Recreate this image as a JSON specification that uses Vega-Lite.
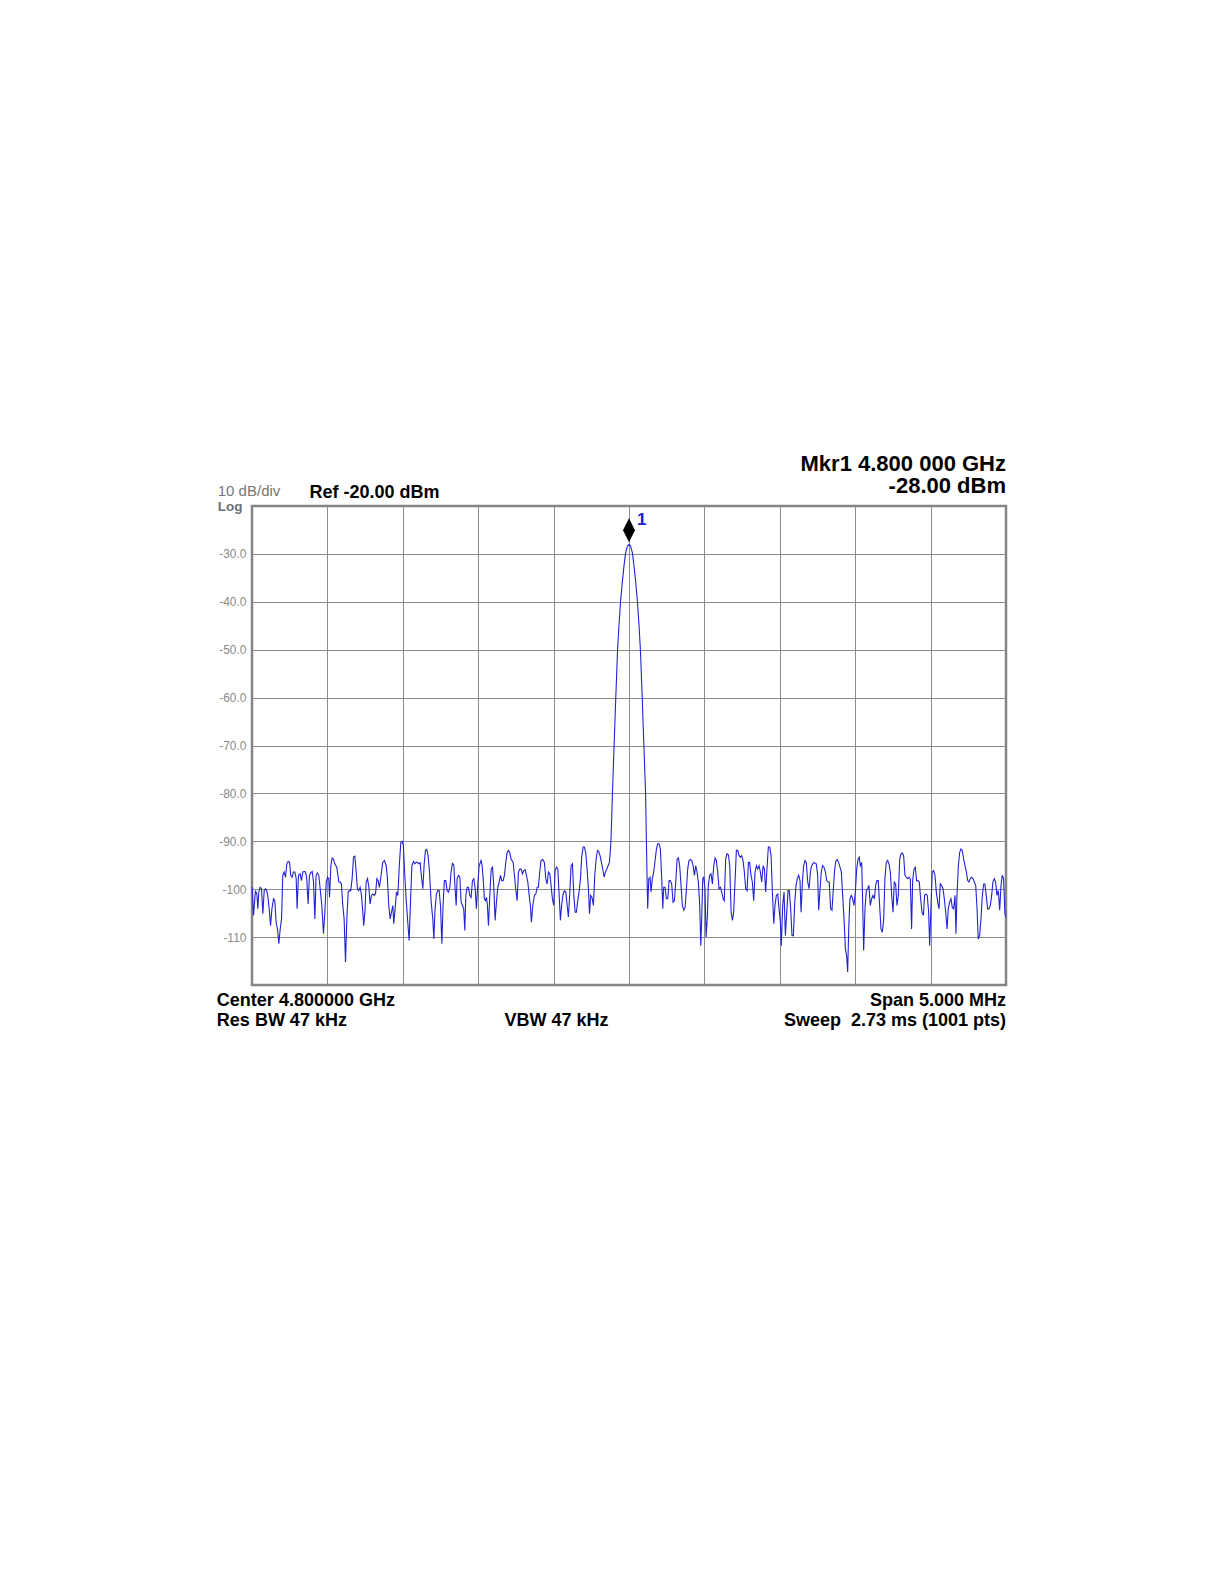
{
"$schema": "https://vega.github.io/schema/vega-lite/v6.json",
"width": 754, "height": 479,
"autosize": "none",
"padding": {"left": 252, "top": 506, "right": 218, "bottom": 599},
"background": "white",
"config": {"font": "Liberation Sans", "view": {"stroke": "#858585", "strokeWidth": 2.5}},
"datasets": {
"trace": [
{"f":4797.501,"dBm":-99.6},{"f":4797.510,"dBm":-105.5},{"f":4797.523,"dBm":-100.3},{"f":4797.532,"dBm":-101.0},{"f":4797.539,"dBm":-104.1},{"f":4797.545,"dBm":-100.6},{"f":4797.554,"dBm":-99.6},{"f":4797.563,"dBm":-99.9},{"f":4797.572,"dBm":-105.1},{"f":4797.581,"dBm":-100.3},{"f":4797.589,"dBm":-99.9},{"f":4797.598,"dBm":-100.3},{"f":4797.607,"dBm":-102.0},{"f":4797.616,"dBm":-104.8},{"f":4797.623,"dBm":-107.6},{"f":4797.632,"dBm":-104.1},{"f":4797.643,"dBm":-102.0},{"f":4797.651,"dBm":-102.4},{"f":4797.660,"dBm":-106.9},{"f":4797.669,"dBm":-108.3},{"f":4797.678,"dBm":-111.4},{"f":4797.687,"dBm":-108.3},{"f":4797.696,"dBm":-106.2},{"f":4797.704,"dBm":-97.1},{"f":4797.713,"dBm":-96.4},{"f":4797.722,"dBm":-97.5},{"f":4797.731,"dBm":-94.7},{"f":4797.740,"dBm":-94.2},{"f":4797.749,"dBm":-94.4},{"f":4797.757,"dBm":-97.1},{"f":4797.766,"dBm":-97.5},{"f":4797.775,"dBm":-96.4},{"f":4797.784,"dBm":-96.4},{"f":4797.793,"dBm":-97.8},{"f":4797.799,"dBm":-104.1},{"f":4797.808,"dBm":-97.1},{"f":4797.819,"dBm":-96.8},{"f":4797.828,"dBm":-98.2},{"f":4797.837,"dBm":-96.4},{"f":4797.846,"dBm":-96.3},{"f":4797.855,"dBm":-96.4},{"f":4797.863,"dBm":-97.8},{"f":4797.872,"dBm":-103.1},{"f":4797.881,"dBm":-97.1},{"f":4797.890,"dBm":-96.6},{"f":4797.899,"dBm":-96.3},{"f":4797.908,"dBm":-98.5},{"f":4797.917,"dBm":-106.2},{"f":4797.925,"dBm":-97.1},{"f":4797.934,"dBm":-96.6},{"f":4797.943,"dBm":-97.1},{"f":4797.952,"dBm":-99.9},{"f":4797.963,"dBm":-103.4},{"f":4797.974,"dBm":-109.3},{"f":4797.983,"dBm":-104.8},{"f":4797.992,"dBm":-98.5},{"f":4798.001,"dBm":-97.5},{"f":4798.009,"dBm":-97.8},{"f":4798.014,"dBm":-101.7},{"f":4798.023,"dBm":-95.1},{"f":4798.031,"dBm":-93.5},{"f":4798.040,"dBm":-93.7},{"f":4798.049,"dBm":-94.7},{"f":4798.062,"dBm":-95.4},{"f":4798.076,"dBm":-98.5},{"f":4798.085,"dBm":-98.5},{"f":4798.093,"dBm":-98.9},{"f":4798.102,"dBm":-103.4},{"f":4798.111,"dBm":-106.2},{"f":4798.120,"dBm":-115.2},{"f":4798.129,"dBm":-106.2},{"f":4798.138,"dBm":-100.6},{"f":4798.146,"dBm":-100.3},{"f":4798.155,"dBm":-100.3},{"f":4798.164,"dBm":-97.8},{"f":4798.173,"dBm":-93.3},{"f":4798.182,"dBm":-93.1},{"f":4798.191,"dBm":-96.4},{"f":4798.199,"dBm":-99.9},{"f":4798.208,"dBm":-100.3},{"f":4798.217,"dBm":-99.6},{"f":4798.226,"dBm":-101.3},{"f":4798.235,"dBm":-104.8},{"f":4798.241,"dBm":-107.6},{"f":4798.250,"dBm":-104.1},{"f":4798.257,"dBm":-98.5},{"f":4798.266,"dBm":-97.8},{"f":4798.275,"dBm":-99.6},{"f":4798.283,"dBm":-103.1},{"f":4798.292,"dBm":-101.3},{"f":4798.301,"dBm":-101.0},{"f":4798.310,"dBm":-101.3},{"f":4798.319,"dBm":-101.0},{"f":4798.328,"dBm":-97.8},{"f":4798.336,"dBm":-98.2},{"f":4798.345,"dBm":-99.6},{"f":4798.356,"dBm":-97.1},{"f":4798.367,"dBm":-94.4},{"f":4798.378,"dBm":-94.0},{"f":4798.390,"dBm":-95.1},{"f":4798.398,"dBm":-97.8},{"f":4798.407,"dBm":-103.4},{"f":4798.416,"dBm":-106.2},{"f":4798.425,"dBm":-104.8},{"f":4798.434,"dBm":-103.4},{"f":4798.440,"dBm":-107.2},{"f":4798.449,"dBm":-104.1},{"f":4798.458,"dBm":-100.6},{"f":4798.467,"dBm":-101.3},{"f":4798.478,"dBm":-94.4},{"f":4798.487,"dBm":-90.2},{"f":4798.496,"dBm":-90.0},{"f":4798.504,"dBm":-90.9},{"f":4798.513,"dBm":-97.1},{"f":4798.522,"dBm":-102.0},{"f":4798.533,"dBm":-106.9},{"f":4798.542,"dBm":-110.7},{"f":4798.551,"dBm":-102.7},{"f":4798.560,"dBm":-95.1},{"f":4798.571,"dBm":-94.2},{"f":4798.580,"dBm":-94.7},{"f":4798.588,"dBm":-94.4},{"f":4798.597,"dBm":-94.4},{"f":4798.606,"dBm":-94.7},{"f":4798.615,"dBm":-94.5},{"f":4798.624,"dBm":-97.5},{"f":4798.633,"dBm":-99.9},{"f":4798.641,"dBm":-95.1},{"f":4798.650,"dBm":-91.9},{"f":4798.659,"dBm":-91.7},{"f":4798.668,"dBm":-93.0},{"f":4798.677,"dBm":-96.4},{"f":4798.688,"dBm":-102.7},{"f":4798.699,"dBm":-106.2},{"f":4798.706,"dBm":-110.4},
{"f":4798.714,"dBm":-104.1},{"f":4798.723,"dBm":-101.0},{"f":4798.732,"dBm":-100.3},{"f":4798.741,"dBm":-100.3},{"f":4798.750,"dBm":-103.4},{"f":4798.759,"dBm":-111.4},{"f":4798.767,"dBm":-103.4},{"f":4798.776,"dBm":-98.2},{"f":4798.785,"dBm":-98.2},{"f":4798.794,"dBm":-100.3},{"f":4798.803,"dBm":-100.6},{"f":4798.812,"dBm":-99.6},{"f":4798.820,"dBm":-96.4},{"f":4798.829,"dBm":-94.6},{"f":4798.838,"dBm":-94.9},{"f":4798.847,"dBm":-99.9},{"f":4798.854,"dBm":-103.4},{"f":4798.860,"dBm":-97.8},{"f":4798.869,"dBm":-97.1},{"f":4798.878,"dBm":-97.5},{"f":4798.887,"dBm":-102.7},{"f":4798.896,"dBm":-103.4},{"f":4798.904,"dBm":-104.1},{"f":4798.911,"dBm":-108.6},{"f":4798.918,"dBm":-101.3},{"f":4798.927,"dBm":-99.6},{"f":4798.935,"dBm":-99.6},{"f":4798.944,"dBm":-101.3},{"f":4798.953,"dBm":-101.7},{"f":4798.962,"dBm":-98.2},{"f":4798.971,"dBm":-97.8},{"f":4798.980,"dBm":-99.9},{"f":4798.988,"dBm":-104.1},{"f":4798.997,"dBm":-99.2},{"f":4799.006,"dBm":-95.1},{"f":4799.019,"dBm":-94.0},{"f":4799.026,"dBm":-95.1},{"f":4799.033,"dBm":-97.8},{"f":4799.041,"dBm":-102.0},{"f":4799.048,"dBm":-102.4},{"f":4799.055,"dBm":-101.7},{"f":4799.061,"dBm":-103.4},{"f":4799.068,"dBm":-107.6},{"f":4799.077,"dBm":-101.3},{"f":4799.086,"dBm":-95.8},{"f":4799.095,"dBm":-95.4},{"f":4799.103,"dBm":-99.2},{"f":4799.112,"dBm":-106.5},{"f":4799.121,"dBm":-102.7},{"f":4799.130,"dBm":-99.6},{"f":4799.139,"dBm":-98.5},{"f":4799.148,"dBm":-97.1},{"f":4799.156,"dBm":-98.2},{"f":4799.165,"dBm":-98.2},{"f":4799.174,"dBm":-97.1},{"f":4799.183,"dBm":-94.4},{"f":4799.192,"dBm":-92.3},{"f":4799.201,"dBm":-91.9},{"f":4799.209,"dBm":-92.3},{"f":4799.218,"dBm":-93.7},{"f":4799.232,"dBm":-94.4},{"f":4799.240,"dBm":-97.1},{"f":4799.249,"dBm":-99.9},{"f":4799.258,"dBm":-102.4},{"f":4799.267,"dBm":-96.4},{"f":4799.276,"dBm":-95.8},{"f":4799.285,"dBm":-95.8},{"f":4799.293,"dBm":-96.8},{"f":4799.302,"dBm":-96.1},{"f":4799.311,"dBm":-95.9},{"f":4799.320,"dBm":-97.1},{"f":4799.329,"dBm":-98.5},{"f":4799.338,"dBm":-101.3},{"f":4799.346,"dBm":-103.4},{"f":4799.353,"dBm":-106.9},{"f":4799.362,"dBm":-103.4},{"f":4799.373,"dBm":-101.3},{"f":4799.382,"dBm":-101.0},{"f":4799.391,"dBm":-99.6},{"f":4799.399,"dBm":-99.6},{"f":4799.408,"dBm":-96.4},{"f":4799.417,"dBm":-94.0},{"f":4799.428,"dBm":-93.8},{"f":4799.439,"dBm":-94.4},{"f":4799.448,"dBm":-97.8},{"f":4799.457,"dBm":-98.9},{"f":4799.466,"dBm":-96.4},{"f":4799.475,"dBm":-96.8},{"f":4799.483,"dBm":-99.2},{"f":4799.492,"dBm":-102.0},{"f":4799.501,"dBm":-103.4},{"f":4799.510,"dBm":-96.1},{"f":4799.519,"dBm":-95.4},{"f":4799.528,"dBm":-95.8},{"f":4799.537,"dBm":-101.3},{"f":4799.545,"dBm":-106.5},{"f":4799.554,"dBm":-103.1},{"f":4799.563,"dBm":-101.0},{"f":4799.572,"dBm":-100.3},{"f":4799.581,"dBm":-100.6},{"f":4799.590,"dBm":-103.4},{"f":4799.598,"dBm":-105.8},{"f":4799.607,"dBm":-101.0},{"f":4799.616,"dBm":-95.1},{"f":4799.625,"dBm":-94.7},{"f":4799.634,"dBm":-101.3},{"f":4799.643,"dBm":-104.8},{"f":4799.651,"dBm":-104.8},{"f":4799.660,"dBm":-102.4},{"f":4799.669,"dBm":-100.6},{"f":4799.678,"dBm":-97.8},{"f":4799.687,"dBm":-93.0},{"f":4799.696,"dBm":-91.2},{"f":4799.704,"dBm":-91.2},{"f":4799.713,"dBm":-92.3},{"f":4799.722,"dBm":-95.8},{"f":4799.731,"dBm":-99.9},{"f":4799.738,"dBm":-105.1},{"f":4799.746,"dBm":-101.3},{"f":4799.755,"dBm":-101.7},{"f":4799.764,"dBm":-103.4},{"f":4799.773,"dBm":-97.1},{"f":4799.782,"dBm":-93.7},{"f":4799.791,"dBm":-91.9},{"f":4799.799,"dBm":-92.1},{"f":4799.808,"dBm":-93.0},{"f":4799.817,"dBm":-94.4},{"f":4799.826,"dBm":-95.8},{"f":4799.835,"dBm":-97.5},{"f":4799.844,"dBm":-96.4},{"f":4799.853,"dBm":-95.8},{"f":4799.861,"dBm":-95.1},{"f":4799.870,"dBm":-94.4},{"f":4799.877,"dBm":-91.6},{"f":4799.881,"dBm":-89.5},
{"f":4799.890,"dBm":-80.0},{"f":4799.901,"dBm":-70.2},{"f":4799.912,"dBm":-60.3},{"f":4799.924,"dBm":-50.2},{"f":4799.933,"dBm":-45.2},{"f":4799.944,"dBm":-40.0},{"f":4799.955,"dBm":-36.1},{"f":4799.966,"dBm":-32.7},{"f":4799.977,"dBm":-29.9},{"f":4799.989,"dBm":-28.4},{"f":4800.000,"dBm":-28.0},{"f":4800.011,"dBm":-28.4},{"f":4800.023,"dBm":-29.9},{"f":4800.034,"dBm":-32.7},{"f":4800.045,"dBm":-36.1},{"f":4800.056,"dBm":-40.0},{"f":4800.067,"dBm":-45.2},{"f":4800.076,"dBm":-50.2},{"f":4800.088,"dBm":-60.3},{"f":4800.099,"dBm":-70.2},{"f":4800.110,"dBm":-80.0},{"f":4800.116,"dBm":-91.0},{"f":4800.119,"dBm":-96.4},
{"f":4800.124,"dBm":-104.1},{"f":4800.131,"dBm":-97.8},{"f":4800.140,"dBm":-97.5},{"f":4800.146,"dBm":-100.6},{"f":4800.155,"dBm":-97.8},{"f":4800.164,"dBm":-96.4},{"f":4800.173,"dBm":-94.0},{"f":4800.182,"dBm":-91.6},{"f":4800.190,"dBm":-90.5},{"f":4800.199,"dBm":-90.5},{"f":4800.208,"dBm":-91.6},{"f":4800.217,"dBm":-97.8},{"f":4800.224,"dBm":-104.1},{"f":4800.230,"dBm":-99.6},{"f":4800.239,"dBm":-99.6},{"f":4800.248,"dBm":-102.0},{"f":4800.257,"dBm":-102.0},{"f":4800.266,"dBm":-98.2},{"f":4800.274,"dBm":-98.2},{"f":4800.283,"dBm":-98.9},{"f":4800.292,"dBm":-102.7},{"f":4800.301,"dBm":-102.4},{"f":4800.310,"dBm":-98.5},{"f":4800.319,"dBm":-93.7},{"f":4800.328,"dBm":-93.5},{"f":4800.336,"dBm":-95.1},{"f":4800.345,"dBm":-99.2},{"f":4800.354,"dBm":-103.4},{"f":4800.363,"dBm":-104.4},{"f":4800.372,"dBm":-103.8},{"f":4800.381,"dBm":-99.9},{"f":4800.389,"dBm":-95.8},{"f":4800.398,"dBm":-94.0},{"f":4800.407,"dBm":-93.8},{"f":4800.416,"dBm":-94.0},{"f":4800.425,"dBm":-95.1},{"f":4800.434,"dBm":-97.1},{"f":4800.442,"dBm":-95.1},{"f":4800.451,"dBm":-96.4},{"f":4800.460,"dBm":-98.5},{"f":4800.469,"dBm":-103.4},{"f":4800.476,"dBm":-111.8},{"f":4800.482,"dBm":-106.2},{"f":4800.489,"dBm":-97.8},{"f":4800.496,"dBm":-97.5},{"f":4800.504,"dBm":-99.9},{"f":4800.511,"dBm":-110.0},{"f":4800.520,"dBm":-105.5},{"f":4800.526,"dBm":-99.2},{"f":4800.535,"dBm":-97.1},{"f":4800.544,"dBm":-96.8},{"f":4800.553,"dBm":-98.9},{"f":4800.562,"dBm":-95.1},{"f":4800.571,"dBm":-93.5},{"f":4800.579,"dBm":-94.0},{"f":4800.588,"dBm":-96.4},{"f":4800.597,"dBm":-99.9},{"f":4800.606,"dBm":-99.6},{"f":4800.615,"dBm":-100.6},{"f":4800.624,"dBm":-102.0},{"f":4800.632,"dBm":-102.4},{"f":4800.641,"dBm":-93.7},{"f":4800.650,"dBm":-92.6},{"f":4800.659,"dBm":-92.8},{"f":4800.668,"dBm":-95.1},{"f":4800.677,"dBm":-104.8},{"f":4800.686,"dBm":-106.5},{"f":4800.694,"dBm":-104.8},{"f":4800.703,"dBm":-98.5},{"f":4800.712,"dBm":-91.9},{"f":4800.721,"dBm":-91.9},{"f":4800.730,"dBm":-93.0},{"f":4800.739,"dBm":-93.3},{"f":4800.747,"dBm":-93.0},{"f":4800.756,"dBm":-94.0},{"f":4800.765,"dBm":-96.4},{"f":4800.774,"dBm":-99.9},{"f":4800.783,"dBm":-100.3},{"f":4800.792,"dBm":-94.4},{"f":4800.800,"dBm":-94.4},{"f":4800.809,"dBm":-97.1},{"f":4800.818,"dBm":-98.5},{"f":4800.827,"dBm":-102.4},{"f":4800.836,"dBm":-96.4},{"f":4800.845,"dBm":-95.1},{"f":4800.853,"dBm":-95.8},{"f":4800.862,"dBm":-95.1},{"f":4800.871,"dBm":-96.4},{"f":4800.880,"dBm":-98.5},{"f":4800.889,"dBm":-95.1},{"f":4800.898,"dBm":-95.8},{"f":4800.906,"dBm":-100.6},{"f":4800.915,"dBm":-95.8},{"f":4800.924,"dBm":-91.2},{"f":4800.933,"dBm":-91.2},{"f":4800.942,"dBm":-93.0},{"f":4800.951,"dBm":-100.6},{"f":4800.960,"dBm":-107.2},{"f":4800.968,"dBm":-103.4},{"f":4800.977,"dBm":-101.3},{"f":4800.986,"dBm":-101.0},{"f":4800.995,"dBm":-104.1},{"f":4801.004,"dBm":-106.9},{"f":4801.010,"dBm":-111.8},{"f":4801.019,"dBm":-103.4},{"f":4801.028,"dBm":-100.6},{"f":4801.037,"dBm":-109.7},{"f":4801.046,"dBm":-104.8},{"f":4801.055,"dBm":-100.3},{"f":4801.063,"dBm":-100.3},{"f":4801.072,"dBm":-104.1},{"f":4801.081,"dBm":-109.7},{"f":4801.090,"dBm":-109.7},{"f":4801.099,"dBm":-102.7},{"f":4801.108,"dBm":-99.2},{"f":4801.116,"dBm":-97.8},{"f":4801.125,"dBm":-97.1},{"f":4801.134,"dBm":-98.2},{"f":4801.141,"dBm":-104.8},{"f":4801.150,"dBm":-98.5},{"f":4801.158,"dBm":-95.1},{"f":4801.167,"dBm":-94.0},{"f":4801.176,"dBm":-94.4},{"f":4801.185,"dBm":-98.5},{"f":4801.194,"dBm":-99.9},{"f":4801.203,"dBm":-96.4},{"f":4801.211,"dBm":-95.1},{"f":4801.225,"dBm":-94.4},
{"f":4801.242,"dBm":-94.7},{"f":4801.251,"dBm":-97.1},{"f":4801.258,"dBm":-104.4},{"f":4801.267,"dBm":-99.9},{"f":4801.275,"dBm":-96.4},{"f":4801.284,"dBm":-95.1},{"f":4801.293,"dBm":-95.4},{"f":4801.302,"dBm":-96.4},{"f":4801.311,"dBm":-98.2},{"f":4801.320,"dBm":-98.5},{"f":4801.328,"dBm":-98.5},{"f":4801.337,"dBm":-104.1},{"f":4801.346,"dBm":-104.4},{"f":4801.355,"dBm":-99.9},{"f":4801.364,"dBm":-95.8},{"f":4801.373,"dBm":-94.0},{"f":4801.381,"dBm":-93.8},{"f":4801.390,"dBm":-94.4},{"f":4801.399,"dBm":-95.4},{"f":4801.408,"dBm":-96.4},{"f":4801.417,"dBm":-101.3},{"f":4801.426,"dBm":-106.2},{"f":4801.435,"dBm":-112.5},{"f":4801.443,"dBm":-113.8},{"f":4801.450,"dBm":-117.3},{"f":4801.457,"dBm":-108.3},{"f":4801.465,"dBm":-102.0},{"f":4801.474,"dBm":-101.3},{"f":4801.483,"dBm":-102.0},{"f":4801.492,"dBm":-103.4},{"f":4801.501,"dBm":-100.6},{"f":4801.510,"dBm":-95.8},{"f":4801.519,"dBm":-93.7},{"f":4801.527,"dBm":-93.3},{"f":4801.534,"dBm":-95.1},{"f":4801.543,"dBm":-94.4},{"f":4801.549,"dBm":-102.0},{"f":4801.556,"dBm":-112.8},{"f":4801.565,"dBm":-104.1},{"f":4801.574,"dBm":-100.3},{"f":4801.583,"dBm":-99.9},{"f":4801.591,"dBm":-99.2},{"f":4801.600,"dBm":-103.4},{"f":4801.609,"dBm":-102.0},{"f":4801.618,"dBm":-101.3},{"f":4801.627,"dBm":-102.0},{"f":4801.636,"dBm":-99.2},{"f":4801.644,"dBm":-98.2},{"f":4801.653,"dBm":-98.2},{"f":4801.662,"dBm":-103.4},{"f":4801.671,"dBm":-108.3},{"f":4801.680,"dBm":-109.0},{"f":4801.689,"dBm":-106.2},{"f":4801.697,"dBm":-97.8},{"f":4801.706,"dBm":-94.4},{"f":4801.715,"dBm":-94.0},{"f":4801.724,"dBm":-94.7},{"f":4801.733,"dBm":-96.4},{"f":4801.742,"dBm":-101.3},{"f":4801.751,"dBm":-104.8},{"f":4801.759,"dBm":-98.5},{"f":4801.768,"dBm":-98.9},{"f":4801.777,"dBm":-103.4},{"f":4801.786,"dBm":-101.3},{"f":4801.795,"dBm":-93.7},{"f":4801.804,"dBm":-92.6},{"f":4801.812,"dBm":-92.4},{"f":4801.821,"dBm":-93.0},{"f":4801.830,"dBm":-97.1},{"f":4801.839,"dBm":-97.5},{"f":4801.848,"dBm":-97.8},{"f":4801.857,"dBm":-97.5},{"f":4801.865,"dBm":-97.8},{"f":4801.874,"dBm":-108.3},{"f":4801.881,"dBm":-98.2},{"f":4801.890,"dBm":-95.8},{"f":4801.899,"dBm":-95.4},{"f":4801.907,"dBm":-98.2},{"f":4801.916,"dBm":-98.2},{"f":4801.925,"dBm":-98.5},{"f":4801.934,"dBm":-102.0},{"f":4801.943,"dBm":-104.8},{"f":4801.952,"dBm":-105.5},{"f":4801.960,"dBm":-101.3},{"f":4801.969,"dBm":-101.0},{"f":4801.978,"dBm":-101.3},{"f":4801.987,"dBm":-104.8},{"f":4801.994,"dBm":-111.8},{"f":4802.002,"dBm":-104.1},{"f":4802.011,"dBm":-96.4},{"f":4802.020,"dBm":-96.1},{"f":4802.029,"dBm":-97.1},{"f":4802.038,"dBm":-100.6},{"f":4802.047,"dBm":-102.7},{"f":4802.056,"dBm":-104.1},{"f":4802.064,"dBm":-98.9},{"f":4802.073,"dBm":-99.2},{"f":4802.082,"dBm":-99.9},{"f":4802.091,"dBm":-102.0},{"f":4802.100,"dBm":-104.8},{"f":4802.109,"dBm":-108.3},{"f":4802.117,"dBm":-104.1},{"f":4802.126,"dBm":-102.7},{"f":4802.135,"dBm":-102.0},{"f":4802.144,"dBm":-103.8},{"f":4802.153,"dBm":-104.1},{"f":4802.162,"dBm":-101.3},{"f":4802.168,"dBm":-109.3},{"f":4802.175,"dBm":-101.3},{"f":4802.184,"dBm":-95.1},{"f":4802.193,"dBm":-92.3},{"f":4802.201,"dBm":-91.6},{"f":4802.210,"dBm":-91.9},{"f":4802.219,"dBm":-93.7},{"f":4802.228,"dBm":-95.1},{"f":4802.237,"dBm":-96.4},{"f":4802.246,"dBm":-98.2},{"f":4802.254,"dBm":-98.5},{"f":4802.263,"dBm":-97.8},{"f":4802.272,"dBm":-97.5},{"f":4802.281,"dBm":-97.8},{"f":4802.290,"dBm":-98.5},{"f":4802.299,"dBm":-99.2},{"f":4802.307,"dBm":-103.4},{"f":4802.316,"dBm":-110.4},{"f":4802.325,"dBm":-109.7},{"f":4802.334,"dBm":-106.2},{"f":4802.343,"dBm":-101.3},{"f":4802.352,"dBm":-98.9},{"f":4802.360,"dBm":-98.9},{"f":4802.369,"dBm":-101.3},{"f":4802.378,"dBm":-104.1},{"f":4802.387,"dBm":-104.1},{"f":4802.396,"dBm":-103.4},{"f":4802.405,"dBm":-101.3},{"f":4802.413,"dBm":-98.5},{"f":4802.422,"dBm":-97.8},{"f":4802.431,"dBm":-98.5},{"f":4802.440,"dBm":-101.3},{"f":4802.449,"dBm":-100.3},{"f":4802.458,"dBm":-104.4},{"f":4802.467,"dBm":-99.2},{"f":4802.475,"dBm":-97.1},{"f":4802.484,"dBm":-97.8},{"f":4802.493,"dBm":-105.1},{"f":4802.500,"dBm":-105.8}
],
"marker": [{"f": 4800.0, "dBm": -28.0, "label": "1"}]
},
"layer": [
{"data": {"name": "trace"},
 "mark": {"type": "line", "stroke": "#2222d4", "strokeWidth": 1.1},
 "encoding": {
  "x": {"field": "f", "type": "quantitative", "scale": {"domain": [4797.5, 4802.5], "nice": false, "zero": false},
        "axis": {"values": [4798, 4798.5, 4799, 4799.5, 4800, 4800.5, 4801, 4801.5, 4802], "labels": false, "ticks": false, "domain": false, "grid": true, "gridColor": "#8c8c8c", "gridOpacity": 1, "gridWidth": 1, "title": null}},
  "y": {"field": "dBm", "type": "quantitative", "scale": {"domain": [-120, -20], "nice": false, "zero": false},
        "axis": {"values": [-30, -40, -50, -60, -70, -80, -90, -100, -110], "grid": true, "gridColor": "#8c8c8c", "gridOpacity": 1, "gridWidth": 1, "ticks": false, "domain": false, "labelExpr": "datum.value > -100 ? toString(datum.value) + '.0' : toString(datum.value)", "labelColor": "#8a8a8a", "labelFontSize": 12, "labelPadding": 6, "labelFont": "Liberation Sans", "title": null}}
 }},
{"data": {"name": "marker"},
 "mark": {"type": "point", "shape": "M0,-1L0.5,0L0,1L-0.5,0Z", "size": 576, "filled": true, "color": "black", "opacity": 1, "yOffset": -14},
 "encoding": {
  "x": {"field": "f", "type": "quantitative", "scale": {"domain": [4797.5, 4802.5], "nice": false, "zero": false}},
  "y": {"field": "dBm", "type": "quantitative", "scale": {"domain": [-120, -20], "nice": false, "zero": false}}
 }},
{"data": {"name": "marker"},
 "mark": {"type": "text", "align": "left", "baseline": "alphabetic", "dx": 8, "dy": -19, "fontSize": 17, "fontWeight": "bold", "color": "#2020d0"},
 "encoding": {
  "x": {"field": "f", "type": "quantitative", "scale": {"domain": [4797.5, 4802.5], "nice": false, "zero": false}},
  "y": {"field": "dBm", "type": "quantitative", "scale": {"domain": [-120, -20], "nice": false, "zero": false}},
  "text": {"field": "label"}
 }},
{"data": {"values": [{"t": "10 dB/div"}]},
 "mark": {"type": "text", "align": "left", "baseline": "alphabetic", "dy": -10, "fontSize": 15, "color": "#777777"},
 "encoding": {"x": {"datum": 4797.273, "type": "quantitative", "scale": {"domain": [4797.5, 4802.5], "nice": false, "zero": false}}, "y": {"datum": -20, "type": "quantitative", "scale": {"domain": [-120, -20], "nice": false, "zero": false}}, "text": {"field": "t"}}},
{"data": {"values": [{"t": "Log"}]},
 "mark": {"type": "text", "align": "left", "baseline": "alphabetic", "dy": 5, "fontSize": 13.5, "fontWeight": "bold", "color": "#6e6e6e"},
 "encoding": {"x": {"datum": 4797.273, "type": "quantitative", "scale": {"domain": [4797.5, 4802.5], "nice": false, "zero": false}}, "y": {"datum": -20, "type": "quantitative", "scale": {"domain": [-120, -20], "nice": false, "zero": false}}, "text": {"field": "t"}}},
{"data": {"values": [{"t": "Ref -20.00 dBm"}]},
 "mark": {"type": "text", "align": "left", "baseline": "alphabetic", "dy": -8, "fontSize": 18, "fontWeight": "bold", "color": "black"},
 "encoding": {"x": {"datum": 4797.881, "type": "quantitative", "scale": {"domain": [4797.5, 4802.5], "nice": false, "zero": false}}, "y": {"datum": -20, "type": "quantitative", "scale": {"domain": [-120, -20], "nice": false, "zero": false}}, "text": {"field": "t"}}},
{"data": {"values": [{"t": "Mkr1 4.800 000 GHz"}]},
 "mark": {"type": "text", "align": "right", "baseline": "alphabetic", "dy": -35, "fontSize": 22, "fontWeight": "bold", "color": "black"},
 "encoding": {"x": {"datum": 4802.5, "type": "quantitative", "scale": {"domain": [4797.5, 4802.5], "nice": false, "zero": false}}, "y": {"datum": -20, "type": "quantitative", "scale": {"domain": [-120, -20], "nice": false, "zero": false}}, "text": {"field": "t"}}},
{"data": {"values": [{"t": "-28.00 dBm"}]},
 "mark": {"type": "text", "align": "right", "baseline": "alphabetic", "dy": -13, "fontSize": 22, "fontWeight": "bold", "color": "black"},
 "encoding": {"x": {"datum": 4802.5, "type": "quantitative", "scale": {"domain": [4797.5, 4802.5], "nice": false, "zero": false}}, "y": {"datum": -20, "type": "quantitative", "scale": {"domain": [-120, -20], "nice": false, "zero": false}}, "text": {"field": "t"}}},
{"data": {"values": [{"t": "Center 4.800000 GHz"}]},
 "mark": {"type": "text", "align": "left", "baseline": "alphabetic", "dy": 21, "fontSize": 18, "fontWeight": "bold", "color": "black"},
 "encoding": {"x": {"datum": 4797.267, "type": "quantitative", "scale": {"domain": [4797.5, 4802.5], "nice": false, "zero": false}}, "y": {"datum": -120, "type": "quantitative", "scale": {"domain": [-120, -20], "nice": false, "zero": false}}, "text": {"field": "t"}}},
{"data": {"values": [{"t": "Res BW 47 kHz"}]},
 "mark": {"type": "text", "align": "left", "baseline": "alphabetic", "dy": 41, "fontSize": 18, "fontWeight": "bold", "color": "black"},
 "encoding": {"x": {"datum": 4797.267, "type": "quantitative", "scale": {"domain": [4797.5, 4802.5], "nice": false, "zero": false}}, "y": {"datum": -120, "type": "quantitative", "scale": {"domain": [-120, -20], "nice": false, "zero": false}}, "text": {"field": "t"}}},
{"data": {"values": [{"t": "VBW 47 kHz"}]},
 "mark": {"type": "text", "align": "left", "baseline": "alphabetic", "dy": 41, "fontSize": 18, "fontWeight": "bold", "color": "black"},
 "encoding": {"x": {"datum": 4799.174, "type": "quantitative", "scale": {"domain": [4797.5, 4802.5], "nice": false, "zero": false}}, "y": {"datum": -120, "type": "quantitative", "scale": {"domain": [-120, -20], "nice": false, "zero": false}}, "text": {"field": "t"}}},
{"data": {"values": [{"t": "Span 5.000 MHz"}]},
 "mark": {"type": "text", "align": "right", "baseline": "alphabetic", "dy": 21, "fontSize": 18, "fontWeight": "bold", "color": "black"},
 "encoding": {"x": {"datum": 4802.5, "type": "quantitative", "scale": {"domain": [4797.5, 4802.5], "nice": false, "zero": false}}, "y": {"datum": -120, "type": "quantitative", "scale": {"domain": [-120, -20], "nice": false, "zero": false}}, "text": {"field": "t"}}},
{"data": {"values": [{"t": "Sweep\u00a0 2.73 ms (1001 pts)"}]},
 "mark": {"type": "text", "align": "right", "baseline": "alphabetic", "dy": 41, "fontSize": 18, "fontWeight": "bold", "color": "black"},
 "encoding": {"x": {"datum": 4802.5, "type": "quantitative", "scale": {"domain": [4797.5, 4802.5], "nice": false, "zero": false}}, "y": {"datum": -120, "type": "quantitative", "scale": {"domain": [-120, -20], "nice": false, "zero": false}}, "text": {"field": "t"}}}
]
}
